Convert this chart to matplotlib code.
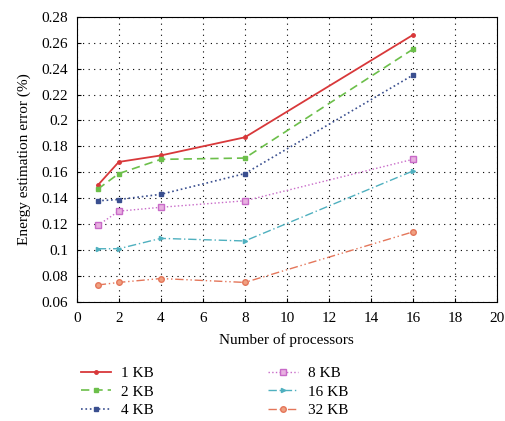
import matplotlib
matplotlib.use('Agg')
import matplotlib.pyplot as plt

# values
procs = [1, 2, 4, 8, 16]
err_1kb = [0.150, 0.168, 0.173, 0.187, 0.266]
err_2kb = [0.147, 0.159, 0.170, 0.171, 0.255]
err_4kb = [0.138, 0.139, 0.143, 0.159, 0.235]
err_8kb = [0.119, 0.130, 0.133, 0.138, 0.170]
err_16kb = [0.101, 0.101, 0.109, 0.107, 0.161]
err_32kb = [0.073, 0.075, 0.078, 0.075, 0.114]

plt.rcParams['font.family'] = ['Liberation Serif', 'DejaVu Serif']

fig = plt.figure(figsize=(5.05, 4.21), dpi=100)
ax = fig.add_axes([0.152, 0.283, 0.832, 0.677])

ax.plot(procs, err_1kb, color='#d8383a', ls='-', lw=1.3, marker='o', ms=2.5, label='1 KB')
ax.plot(procs, err_2kb, color='#6cbf4a', ls=(0, (5, 3)), lw=1.2, marker='s', ms=3, label='2 KB')
ax.plot(procs, err_4kb, color='#3a4f8f', ls=':', lw=1.2, marker='s', ms=3, label='4 KB')
ax.plot(procs, err_8kb, color='#c86ac8', ls=':', lw=1.0, marker='s', ms=4, mfc='#e8b0e0', label='8 KB')
ax.plot(procs, err_16kb, color='#4fb0bf', ls=(0, (6, 2, 1, 2)), lw=1.0, marker='>', ms=3, label='16 KB')
ax.plot(procs, err_32kb, color='#e4765a', ls=(0, (6, 2, 1, 2, 1, 2)), lw=1.0, marker='o', ms=4, mfc='#f0a080', label='32 KB')

ax.set_xlim(0, 20)
ax.set_ylim(0.06, 0.28)
ax.set_xticks(range(0, 21, 2))
ax.set_yticks([0.06 + 0.02 * i for i in range(12)])
ax.set_yticklabels(['0.06', '0.08', '0.1', '0.12', '0.14', '0.16', '0.18', '0.2', '0.22', '0.24', '0.26', '0.28'])
ax.tick_params(direction='in', labelsize=11, length=3)
ax.tick_params(axis='x', pad=7)
ax.tick_params(axis='y', pad=6)
ax.grid(True, color='black', ls=(0, (1, 4)), lw=0.8)
ax.set_xlabel('Number of processors', fontsize=11, labelpad=6)
ax.set_ylabel('Energy estimation error (%)', fontsize=11, labelpad=8)

h, l = ax.get_legend_handles_labels()
fig.legend(h, l, ncol=2, loc='upper left', bbox_to_anchor=(0.145, 0.148), frameon=False,
           borderpad=0, fontsize=11, handlelength=2.0, handletextpad=0.6,
           columnspacing=7.5, labelspacing=0.32)

fig.savefig('out.png', dpi=100)
